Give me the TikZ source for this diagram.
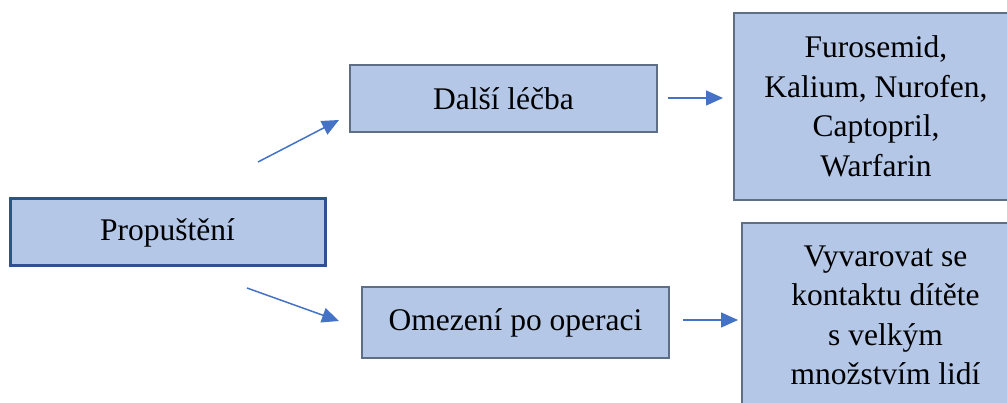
\documentclass[tikz,border=0pt]{standalone}
\usepackage{fontspec}
\setmainfont{Liberation Serif}
\usetikzlibrary{arrows.meta,positioning}
\definecolor{boxfill}{HTML}{B4C7E7}
\definecolor{boxline}{HTML}{5E6E86}
\definecolor{keyline}{HTML}{2F528F}
\definecolor{arrowblue}{HTML}{4472C4}
\tikzset{stepbox/.style={draw=boxline,fill=boxfill,line width=1.5pt,inner sep=0pt,align=center,font=\fontsize{31.5}{39.5}\selectfont}}

\begin{document}
\begin{tikzpicture}[x=1pt, y=-1pt, >={Triangle[length=17pt,width=15pt]}, flow/.style={->,draw=arrowblue,line width=1.5pt}]
        \useasboundingbox (0,0) rectangle (1007,403);
        % boxes
        \node[stepbox,draw=keyline,line width=3pt,minimum width=315pt,minimum height=67pt] (prop) at (167.5,232.5) {Propuštění};
        \node[stepbox,minimum width=307pt,minimum height=67pt] (dalsi) at (503.5,98.5) {Další léčba};
        \node[stepbox,minimum width=307pt,minimum height=71pt] (omez) at (515.5,322.5) {Omezení po operaci};
        \node[stepbox,minimum width=284pt,minimum height=187pt] (leky) at (876,106.5) {Furosemid,\\Kalium, Nurofen,\\Captopril,\\Warfarin};
        \node[stepbox,minimum width=287pt,minimum height=185pt] (kontakt) at (885.5,315.5) {Vyvarovat se\\kontaktu dítěte\\s velkým\\množstvím lidí};
        % arrow ends
        \coordinate (a1s) at (258,162);
        \coordinate (a1e) at (339,120);
        \coordinate (a2s) at (668,98);
        \coordinate (a2e) at (723,98);
        \coordinate (a3s) at (247,288);
        \coordinate (a3e) at (339,321);
        \coordinate (a4s) at (683,320);
        \coordinate (a4e) at (738,320);
        \draw[flow] (a1s) -- (a1e);
        \draw[flow] (a2s) -- (a2e);
        \draw[flow] (a3s) -- (a3e);
        \draw[flow] (a4s) -- (a4e);
\end{tikzpicture}
\end{document}
